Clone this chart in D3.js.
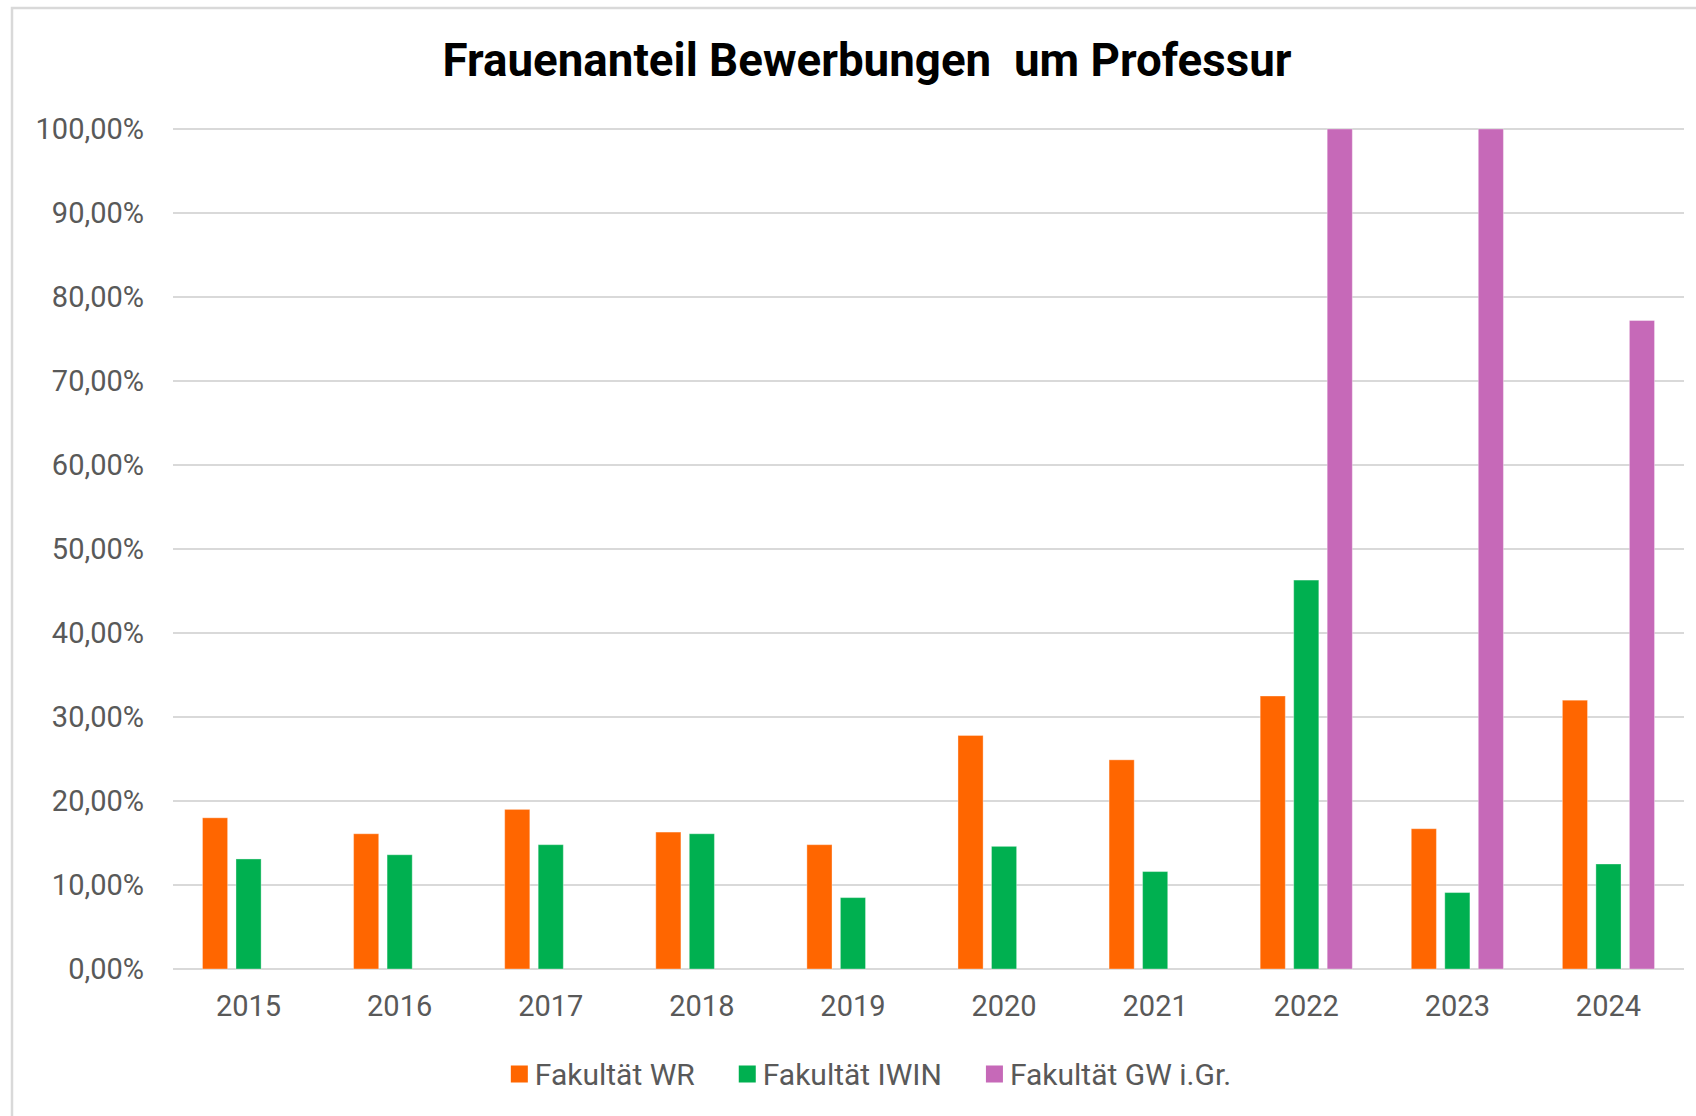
<!DOCTYPE html>
<html>
<head>
<meta charset="utf-8">
<script src="https://cdn.jsdelivr.net/npm/d3@7"></script>
<style>
  html, body { margin: 0; padding: 0; background: #fff; }
  svg { display: block; font-family: Roboto, "Noto Sans", sans-serif; }
</style>
</head>
<body>
<div id="chart"></div>
<script>
// data (shares in %)
const years = ['2015', '2016', '2017', '2018', '2019', '2020', '2021', '2022', '2023', '2024'];
const seriesNames = ['Fakultät WR', 'Fakultät IWIN', 'Fakultät GW i.Gr.'];
const wr   = [18.0, 16.1, 19.0, 16.3, 14.8, 27.8, 24.9, 32.5, 16.7, 32.0];
const iwin = [13.1, 13.6, 14.8, 16.1, 8.5, 14.6, 11.6, 46.3, 9.1, 12.5];
const gw   = [null, null, null, null, null, null, null, 100, 100, 77.2];
const yTicks = [0, 0.1, 0.2, 0.3, 0.4, 0.5, 0.6, 0.7, 0.8, 0.9, 1.0];
const colors = ['#ff6600', '#00b050', '#c669b8'];

const width = 1696, height = 1116;
const margin = { top: 129, right: 12, bottom: 146, left: 173 };

const svg = d3.select('#chart').append('svg')
  .attr('width', width)
  .attr('height', height);

// chart frame (only left and top edges are visible in the picture)
svg.append('rect')
  .attr('x', 12).attr('y', 8)
  .attr('width', width + 40).attr('height', height + 40)
  .attr('fill', 'none')
  .attr('stroke', '#d9d9d9')
  .attr('stroke-width', 2.5);

svg.append('text')
  .attr('x', 867).attr('y', 76)
  .attr('text-anchor', 'middle')
  .attr('font-size', 46)
  .attr('font-weight', 700)
  .attr('fill', '#000')
  .attr('textLength', 849)
  .attr('lengthAdjust', 'spacingAndGlyphs')
  .attr('xml:space', 'preserve')
  .text('Frauenanteil Bewerbungen  um Professur');

const de = d3.formatLocale({ decimal: ',', thousands: '.', grouping: [3], currency: ['', ' €'] });
const pct = de.format('.2%');

const x0 = d3.scaleBand()
  .domain(years)
  .range([margin.left, width - margin.right])
  .padding(0);

const x1 = d3.scaleBand()
  .domain(seriesNames)
  .range([0, x0.bandwidth()])
  .paddingInner(0.25)
  .paddingOuter(0.88);

const y = d3.scaleLinear()
  .domain([0, 1])
  .range([height - margin.bottom - 1, margin.top]);

// gridlines
svg.append('g')
  .selectAll('line')
  .data(yTicks)
  .join('line')
  .attr('x1', margin.left)
  .attr('x2', width - margin.right)
  .attr('y1', d => y(d))
  .attr('y2', d => y(d))
  .attr('stroke', '#d9d9d9')
  .attr('stroke-width', 2);

// y axis labels
const yAxis = svg.append('g')
  .attr('transform', `translate(${margin.left},0)`)
  .call(d3.axisLeft(y).tickValues(yTicks).tickFormat(pct).tickSize(0).tickPadding(29));
yAxis.select('.domain').remove();
yAxis.selectAll('text')
  .attr('font-size', 29)
  .attr('font-family', 'Roboto, sans-serif')
  .attr('fill', '#595959');

// x axis labels
const xAxis = svg.append('g')
  .attr('transform', `translate(0,${y(0)})`)
  .call(d3.axisBottom(x0).tickSize(0).tickPadding(26));
xAxis.select('.domain').remove();
xAxis.selectAll('text')
  .attr('font-size', 29)
  .attr('font-family', 'Roboto, sans-serif')
  .attr('fill', '#595959');

// bars
const rows = years.map((yr, i) => ({
  year: yr,
  values: [wr[i], iwin[i], gw[i]].map((v, j) => ({ key: seriesNames[j], value: v, color: colors[j] }))
}));

svg.append('g')
  .selectAll('g')
  .data(rows)
  .join('g')
  .attr('transform', d => `translate(${x0(d.year)},0)`)
  .selectAll('rect')
  .data(d => d.values.filter(v => v.value != null))
  .join('rect')
  .attr('x', d => x1(d.key))
  .attr('width', x1.bandwidth())
  .attr('y', d => y(d.value / 100))
  .attr('height', d => y(0) - y(d.value / 100))
  .attr('fill', d => d.color)
  .attr('stroke', 'rgba(255,255,255,0.35)')
  .attr('stroke-width', 1);

// legend
const legend = svg.append('g').attr('transform', 'translate(0,1074)');
let lx = 0;
const items = legend.selectAll('g')
  .data(seriesNames)
  .join('g');
items.append('rect')
  .attr('y', -8.5)
  .attr('width', 17).attr('height', 17)
  .attr('fill', (d, i) => colors[i]);
items.append('text')
  .attr('x', 24)
  .attr('dy', '0.35em')
  .attr('font-size', 30)
  .attr('fill', '#595959')
  .text(d => d);
items.each(function () {
  const g = d3.select(this);
  g.attr('transform', `translate(${lx},0)`);
  lx += 24 + g.select('text').node().getComputedTextLength() + 44;
});
const legendWidth = lx - 44;
legend.attr('transform', `translate(${871 - legendWidth / 2},1074)`);
</script>
</body>
</html>
